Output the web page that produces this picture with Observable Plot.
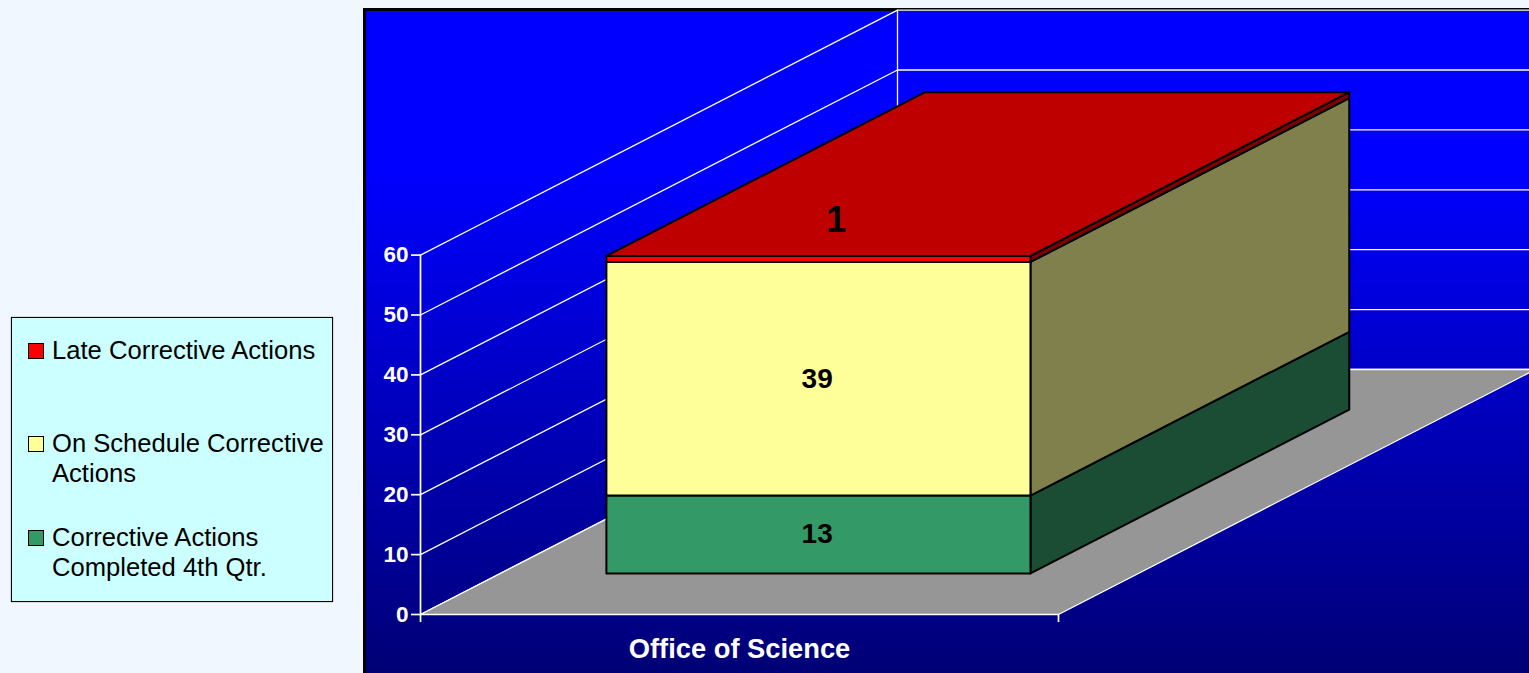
<!DOCTYPE html>
<html>
<head>
<meta charset="utf-8">
<script src="https://cdn.jsdelivr.net/npm/d3@7"></script>
<script src="https://cdn.jsdelivr.net/npm/@observablehq/plot@0.6"></script>
<style>
  html, body { margin: 0; padding: 0; width: 1529px; height: 673px; overflow: hidden; background: #f0f7ff; font-family: "Liberation Sans", Arial, sans-serif; }
  #panel { position: absolute; left: 363px; top: 8px; width: 1166px; height: 665px; box-sizing: border-box; border-left: 3px solid #000; border-top: 3px solid #000;
           background: linear-gradient(to bottom, #0000ff 0, #0000ff 24%, #000075 100%); }
  #chart { position: absolute; left: 0; top: 0; }
  #legend { position: absolute; left: 11px; top: 317px; width: 322px; height: 285px; box-sizing: border-box; background: #ccffff; border: 1px solid #000; box-shadow: 0 0 1px #555; color: #000; font-size: 25.6px; line-height: 29.5px; z-index: 2; }
  .item { position: absolute; left: 40px; white-space: nowrap; }
  .swatch { position: absolute; left: -24px; top: 7px; width: 14px; height: 14px; border: 1px solid #000; }
</style>
</head>
<body>
<div id="panel"></div>
<div id="chart"></div>
<div id="legend"></div>
<script>
const category = "Office of Science";
const seriesNames = ["Corrective Actions Completed 4th Qtr.", "On Schedule Corrective Actions", "Late Corrective Actions"];
const seriesValues = [13, 39, 1];
const frontColors = ["#339966", "#ffff99", "#ff0000"];
const sideColors = ["#1a4d33", "#80804d", "#800000"];
const topColor = "#bf0000";
const yTicks = [0, 10, 20, 30, 40, 50, 60];

const legendOrder = [2, 1, 0];
const legendLines = [["Late Corrective Actions"], ["On Schedule Corrective", "Actions"], ["Corrective Actions", "Completed 4th Qtr."]];
const legendTops = [18, 111, 205];

// Oblique projection of the chart box, in data units per unit of depth
const depthX = 477 / 638;
const depthY = 245 / 5.99;
const project = (x, v, d) => ({x: x + d * depthX, y: v + d * depthY});

// Bar footprint within the box
const barX0 = 0.166, barX1 = 0.8307, barD0 = 0.1677, barD1 = 0.836;

const stacked = [];
let base = 0;
seriesValues.forEach((value, i) => { stacked.push({lo: base, hi: base + value, value, i}); base += value; });
const barTop = base;

const poly = (pts, fill, stroke, strokeWidth) =>
  Plot.line([...pts, pts[0]], {x: "x", y: "y", fill, stroke, strokeWidth});

const marks = [];
// Left and back wall grid
for (const t of yTicks) {
  marks.push(Plot.line([project(0, t, 0), project(0, t, 1), project(1, t, 1)], {x: "x", y: "y", stroke: "white", strokeWidth: 1.3}));
}
marks.push(Plot.line([project(0, 0, 1), project(0, 60, 1)], {x: "x", y: "y", stroke: "white", strokeWidth: 1.3}));
marks.push(Plot.line([project(0, 0, 0), project(0, 60, 0)], {x: "x", y: "y", stroke: "white", strokeWidth: 1.7}));
// Floor
marks.push(poly([project(0, 0, 0), project(1, 0, 0), project(1, 0, 1), project(0, 0, 1)], "#969696", "white", 1.3));
// Bar side faces
for (const s of stacked) {
  marks.push(poly([project(barX1, s.lo, barD0), project(barX1, s.lo, barD1), project(barX1, s.hi, barD1), project(barX1, s.hi, barD0)], sideColors[s.i], "black", 2));
}
// Bar top
marks.push(poly([project(barX0, barTop, barD0), project(barX1, barTop, barD0), project(barX1, barTop, barD1), project(barX0, barTop, barD1)], topColor, "black", 2));
// Bar front faces
for (const s of stacked) {
  marks.push(poly([project(barX0, s.lo, barD0), project(barX1, s.lo, barD0), project(barX1, s.hi, barD0), project(barX0, s.hi, barD0)], frontColors[s.i], "black", 2));
}
// Value labels: thin segments sit on the top face, the others on their front face
const labelData = stacked.map(s => {
  const onTop = s.value < 5;
  const barCenter = (barX0 + barX1) / 2;
  const p = onTop ? project(barCenter + 0.028, barTop + 5.9, barD0) : project(barCenter - 0.002, (s.lo + s.hi) / 2, barD0);
  return {...p, label: String(s.value), size: onTop ? 36 : 28};
});
for (const size of [28, 36]) {
  marks.push(Plot.text(labelData.filter(d => d.size === size), {x: "x", y: "y", text: "label", fill: "black", fontWeight: "bold", fontSize: size, fontFamily: "Liberation Sans"}));
}
// Axes
marks.push(Plot.axisY({anchor: "left", ticks: yTicks, label: null, color: "white", tickSize: 9, tickPadding: 3, strokeWidth: 1.7, fontSize: 22.5, fontWeight: "bold", fontFamily: "Liberation Sans"}));
marks.push(Plot.axisX({anchor: "bottom", ticks: [0, 1], label: null, color: "white", tickSize: 8, tickFormat: () => "", strokeWidth: 1.7}));
marks.push(Plot.axisX({anchor: "bottom", ticks: [0.5], label: null, color: "white", tickSize: 0, tickPadding: 24, tickFormat: () => category, fontSize: 27.3, fontWeight: "bold", fontFamily: "Liberation Sans"}));

const chart = Plot.plot({
  width: 1529,
  height: 673,
  marginLeft: 420,
  marginRight: 0,
  marginTop: 10,
  marginBottom: 59,
  x: {domain: [0, 1], range: [420, 1058]},
  y: {domain: [0, 60], range: [614, 254.6]},
  style: {background: "transparent", overflow: "hidden", fontFamily: "Liberation Sans", maxWidth: "none"},
  marks
});
document.getElementById("chart").appendChild(chart);

const legend = document.getElementById("legend");
legendOrder.forEach((seriesIndex, row) => {
  const item = document.createElement("div");
  item.className = "item";
  item.style.top = legendTops[row] + "px";
  const swatch = document.createElement("span");
  swatch.className = "swatch";
  swatch.style.background = frontColors[seriesIndex];
  item.appendChild(swatch);
  legendLines[row].forEach((line, k) => {
    if (k) item.appendChild(document.createElement("br"));
    item.appendChild(document.createTextNode(line));
  });
  legend.appendChild(item);
});
</script>
</body>
</html>
